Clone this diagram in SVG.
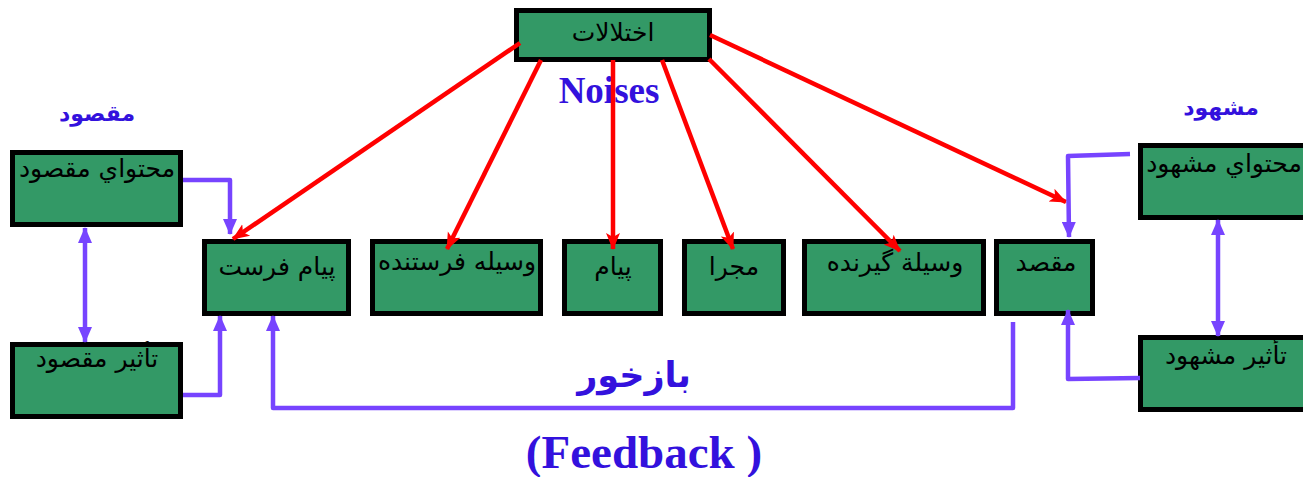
<svg xmlns="http://www.w3.org/2000/svg" width="1303" height="477" viewBox="0 0 1303 477">
<style>
.box{fill:#339966;stroke:#000;stroke-width:5}
.t{font-family:"DejaVu Sans","Noto Sans",sans-serif;font-size:25px;fill:#000;text-anchor:middle}
.lbl{font-family:"DejaVu Sans","Noto Sans",sans-serif;font-weight:bold;fill:#3311DD;text-anchor:middle}
.en{font-family:"Liberation Serif",serif;font-weight:bold;fill:#3311DD;text-anchor:middle}
.red{stroke:#FF0000;stroke-width:4.5;fill:none}
.pur{stroke:#7744FF;stroke-width:4.5;fill:none;stroke-linejoin:round}
</style>
<defs>
<marker id="ra" markerUnits="userSpaceOnUse" markerWidth="18" markerHeight="16" refX="16" refY="8" orient="auto">
<path d="M0,1 L17,8 L0,15 L4,8 z" fill="#FF0000"/>
</marker>
<marker id="pa" markerUnits="userSpaceOnUse" markerWidth="16" markerHeight="14" refX="15" refY="7" orient="auto">
<path d="M0,0 L16,7 L0,14 z" fill="#7744FF"/>
</marker>
<marker id="ps" markerUnits="userSpaceOnUse" markerWidth="16" markerHeight="14" refX="1" refY="7" orient="auto">
<path d="M16,0 L0,7 L16,14 z" fill="#7744FF"/>
</marker>
</defs>

<g id="noise"><rect class="box" x="516.5" y="10.5" width="193" height="49"/><text class="t" x="613" y="41">اختلالات</text></g>
<g id="sender-content"><rect class="box" x="12.5" y="152.5" width="168" height="72"/><text class="t" x="97" y="177">محتواي مقصود</text></g>
<g id="sender-effect"><rect class="box" x="12.5" y="344.5" width="168" height="72"/><text class="t" x="97" y="367">تأثير مقصود</text></g>
<g id="sender"><rect class="box" x="204.5" y="241.5" width="144" height="72"/><text class="t" x="277" y="275">پيام فرست</text></g>
<g id="send-device"><rect class="box" x="372.5" y="241.5" width="168" height="72"/><text class="t" x="457" y="270">وسيله فرستنده</text></g>
<g id="message"><rect class="box" x="564.5" y="241.5" width="96" height="72"/><text class="t" x="613" y="275">پيام</text></g>
<g id="channel"><rect class="box" x="684.5" y="241.5" width="99" height="72"/><text class="t" x="734" y="275">مجرا</text></g>
<g id="recv-device"><rect class="box" x="804.5" y="241.5" width="179" height="72"/><text class="t" x="895" y="271">وسيلة گيرنده</text></g>
<g id="receiver"><rect class="box" x="996.5" y="241.5" width="96" height="72"/><text class="t" x="1046" y="271">مقصد</text></g>
<g id="recv-content"><rect class="box" x="1140.5" y="145.5" width="170" height="72"/><text class="t" x="1224" y="172">محتواي مشهود</text></g>
<g id="recv-effect"><rect class="box" x="1140.5" y="337.5" width="170" height="72"/><text class="t" x="1226" y="364">تأثير مشهود</text></g>

<g id="labels">
<text class="lbl" x="97" y="121" style="font-size:22px">مقصود</text>
<text class="lbl" x="1221" y="115" style="font-size:22px">مشهود</text>
<text class="en" x="609" y="103" style="font-size:37px">Noises</text>
<text class="lbl" x="634" y="387" style="font-size:35px">بازخور</text>
<text class="en" x="644" y="468" style="font-size:47px">(Feedback )</text>
</g>

<g id="connectors">
<line class="red" x1="520" y1="43" x2="233" y2="239" marker-end="url(#ra)"/>
<line class="red" x1="541" y1="60" x2="447" y2="249" marker-end="url(#ra)"/>
<line class="red" x1="613" y1="60" x2="613" y2="249" marker-end="url(#ra)"/>
<line class="red" x1="662" y1="60" x2="733" y2="249" marker-end="url(#ra)"/>
<line class="red" x1="709" y1="59" x2="900" y2="251" marker-end="url(#ra)"/>
<line class="red" x1="710" y1="35" x2="1066" y2="202" marker-end="url(#ra)"/>

<polyline class="pur" points="183,180 230,180 230,234" marker-end="url(#pa)"/>
<line class="pur" x1="85" y1="228" x2="85" y2="342" marker-start="url(#ps)" marker-end="url(#pa)"/>
<polyline class="pur" points="183,395 220,395 220,316" marker-end="url(#pa)"/>
<polyline class="pur" points="1013,322 1013,408 273,408 273,316" marker-end="url(#pa)"/>
<polyline class="pur" points="1130,154 1068,156 1069,237" marker-end="url(#pa)"/>
<line class="pur" x1="1218" y1="220" x2="1218" y2="336" marker-start="url(#ps)" marker-end="url(#pa)"/>
<polyline class="pur" points="1140,378 1068,379 1068,310" marker-end="url(#pa)"/>
</g>
</svg>
